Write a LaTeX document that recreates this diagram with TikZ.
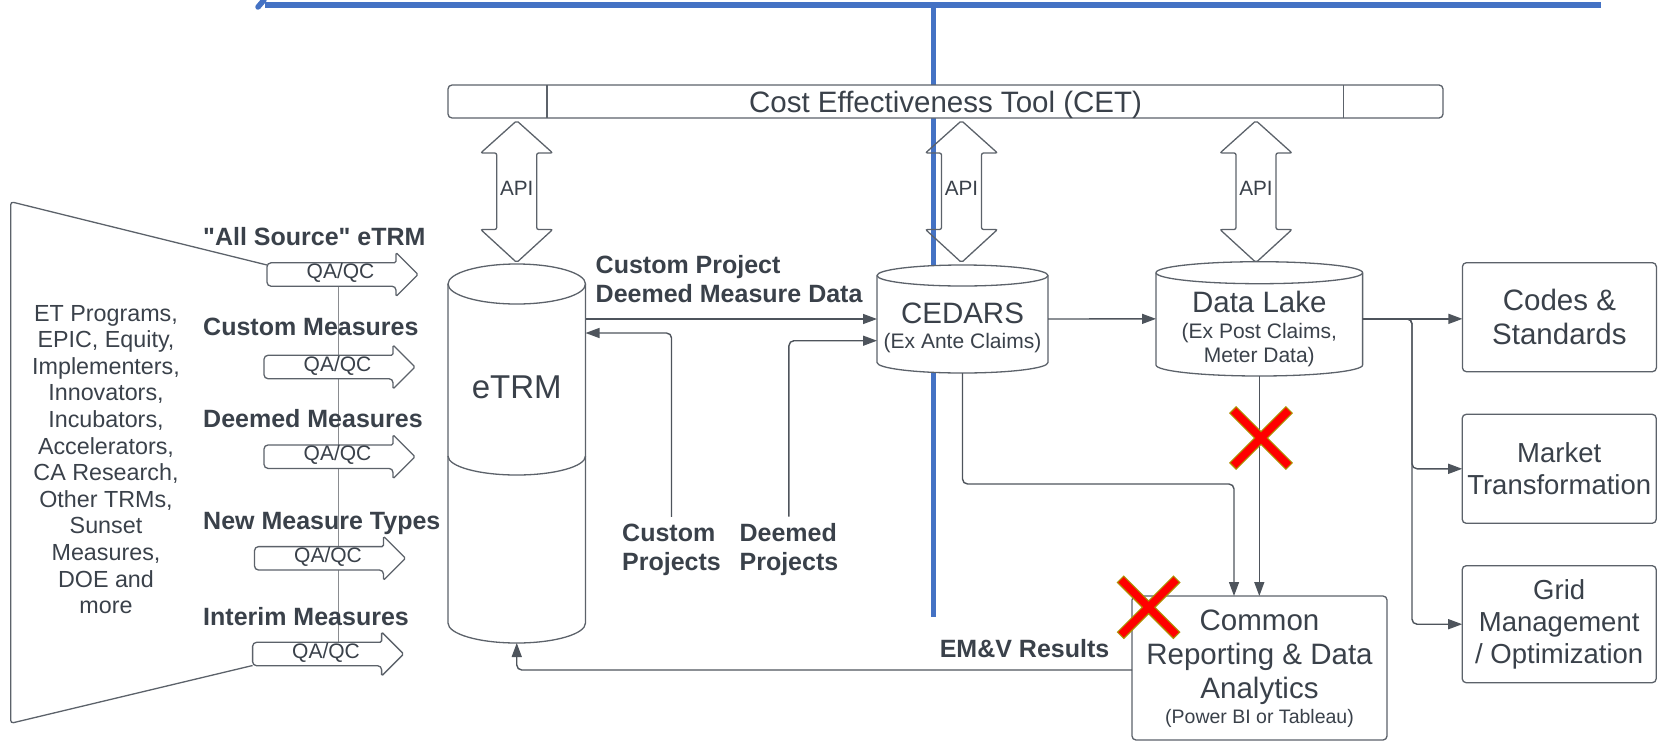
\documentclass[tikz,border=0pt]{standalone}
\usepackage{fontspec}
\setmainfont{Liberation Sans}[Ligatures=TeXOff]
\usetikzlibrary{arrows.meta}

\definecolor{ink}{RGB}{58,65,74}
\definecolor{edge}{RGB}{92,98,106}
\definecolor{wire}{RGB}{78,84,92}
\definecolor{railblue}{RGB}{68,114,196}
\definecolor{qaline}{RGB}{138,140,144}
\definecolor{xred}{RGB}{255,0,0}
\definecolor{xrim}{RGB}{176,140,0}

\newcommand\bigfont{\fontsize{29.5}{34}\selectfont}
\newcommand\midfont{\fontsize{27.5}{32}\selectfont}
\newcommand\smallfont{\fontsize{21}{23.7}\selectfont}
\newcommand\labfont{\fontsize{25}{29}\selectfont\bfseries}

% cylinder outline around a placeholder node: #1 node, #2 x radius, #3 y radius
\newcommand\drum[3]{%
  \draw[box, rounded corners=0pt] ([yshift=-#3]#1.north west) -- ([yshift=#3]#1.south west)
    arc[start angle=180, end angle=360, x radius=#2, y radius=#3]
    -- ([yshift=-#3]#1.north east)
    arc[start angle=0, end angle=180, x radius=#2, y radius=#3] -- cycle;
  \draw[box, fill=none, rounded corners=0pt] ([yshift=-#3]#1.north west)
    arc[start angle=180, end angle=360, x radius=#2, y radius=#3];
}

\tikzset{
  box/.style={draw=edge, line width=1.3pt, fill=white, rounded corners=4pt},
  txt/.style={text=ink, inner sep=0pt, align=center},
  big/.style={txt, font=\bigfont},
  mid/.style={txt, font=\midfont},
  small/.style={txt, font=\smallfont},
  lab/.style={text=ink, inner sep=0pt, align=left, font=\labfont},
  hold/.style 2 args={inner sep=0pt, outer sep=0pt, minimum width=#1, minimum height=#2},
  conn/.style={draw=wire, line width=1.4pt, rounded corners=5pt,
    -{Triangle[length=14pt,width=10pt]}},
  rail/.style={draw=railblue, line width=5.5pt},
  crossrim/.style={draw=xrim, line width=10pt},
  crossred/.style={draw=xred, line width=7.5pt},
  qaarrow/.pic={
    \draw[draw=edge, line width=1.3pt, fill=white, rounded corners=4pt]
      (129,-11.7) -- (0,-11.7) -- (0,11.7) -- (129,11.7)
      [rounded corners=1.5pt] -- (129,22) -- (151,0) -- (129,-22) -- cycle;
  },
  apiarrow/.pic={
    \draw[draw=edge, line width=1.3pt, rounded corners=2pt]
      (0,120.7) -- (36,153) -- (20,153) -- (20,229.5) -- (36,229.5) -- (0,262.5)
      -- (-36,229.5) -- (-20,229.5) -- (-20,153) -- (-36,153) -- cycle;
  },
}

\begin{document}
\begin{tikzpicture}[x=1pt, y=-1pt]
\useasboundingbox (0,0) rectangle (1661,742);

% blue rails
\draw[rail, line cap=round] (258,7) -- (264,0);
\draw[rail] (265,5) -- (1601,5);
\draw[rail] (933.5,5) -- (933.5,617);

% source funnel and QA/QC feeders
\draw[draw=edge, line width=1.3pt, rounded corners=3pt]
  (267,265) -- (10.7,201.7) -- (10.7,723.3) -- (252.6,665.5);
\draw[draw=qaline, line width=1.5pt] (338.7,286) -- (338.7,643);

\pic at (267,274.5) {qaarrow};
\pic at (264,367) {qaarrow};
\pic at (264,456.7) {qaarrow};
\pic at (254.5,558.3) {qaarrow};
\pic at (252.6,654) {qaarrow};

\node[txt, font=\fontsize{21}{24}\selectfont] (qa1) at (340.5,273) {QA/QC};
\node[txt, font=\fontsize{21}{24}\selectfont] (qa2) at (337.5,365.5) {QA/QC};
\node[txt, font=\fontsize{21}{24}\selectfont] (qa3) at (337.5,455.2) {QA/QC};
\node[txt, font=\fontsize{21}{24}\selectfont] (qa4) at (328,556.8) {QA/QC};
\node[txt, font=\fontsize{21}{24}\selectfont] (qa5) at (326,652.5) {QA/QC};

\node[txt, font=\fontsize{23.3}{26.6}\selectfont] (sources) at (106,459.5)
  {ET Programs,\\EPIC, Equity,\\Implementers,\\Innovators,\\Incubators,\\Accelerators,\\CA Research,\\Other TRMs,\\Sunset\\Measures,\\DOE and\\more};

\node[lab, anchor=base west] (allsrc) at (203,245) {"All Source" eTRM};
\node[lab, anchor=base west] (custmeas) at (203,335) {Custom Measures};
\node[lab, anchor=base west] (deemmeas) at (203,427.3) {Deemed Measures};
\node[lab, anchor=base west] (newmeas) at (203,529) {New Measure Types};
\node[lab, anchor=base west] (intmeas) at (203,625) {Interim Measures};

% cost effectiveness tool bar
\node[box, hold={995pt}{33pt}] (cet) at (945.5,101.5) {};
\draw[draw=edge, line width=1.3pt] ([xshift=99pt]cet.north west) -- ([xshift=99pt]cet.south west);
\draw[draw=edge, line width=1.3pt] ([xshift=-99.4pt]cet.north east) -- ([xshift=-99.4pt]cet.south east);
\node[big, anchor=base] (cettext) at (945.5,112) {Cost Effectiveness Tool (CET)};

% API links
\pic at (516.7,0) {apiarrow};
\pic at (961.5,0) {apiarrow};
\pic at (1256,0) {apiarrow};
\node[txt, font=\fontsize{20.7}{24}\selectfont] (api1) at (516.7,188.3) {API};
\node[txt, font=\fontsize{20.7}{24}\selectfont] (api2) at (961.5,188.3) {API};
\node[txt, font=\fontsize{20.7}{24}\selectfont] (api3) at (1256,188.3) {API};

% data stores
\node[hold={137.5pt}{379pt}] (etrm) at (516.75,453.5) {};
\drum{etrm}{68.75pt}{20pt}
\coordinate (etrmmid) at (448,456);
\draw[box, fill=none, rounded corners=0pt] (etrmmid) arc[start angle=180, end angle=360, x radius=68.75pt, y radius=19pt];
\node[txt, font=\fontsize{33}{38}\selectfont, anchor=base] (etrmtext) at (516.75,398.5) {eTRM};

\node[hold={171pt}{108pt}] (cedars) at (962.5,319) {};
\drum{cedars}{85.5pt}{10.5pt}
\node[big, anchor=base] (cedarstext) at (962.5,323.6) {CEDARS};
\node[small] (cedarssub) at (962.5,343.3) {(Ex Ante Claims)};

\node[hold={206.6pt}{114.3pt}] (lake) at (1259.3,318.85) {};
\drum{lake}{103.3pt}{11pt}
\node[big, anchor=base] (laketext) at (1259.3,312.3) {Data Lake};
\node[small] (lakesub) at (1259.3,344.85) {(Ex Post Claims,\\Meter Data)};

% outcome boxes
\node[box, hold={194pt}{109pt}, big] (codes) at (1559.4,317.2) {Codes \&\\Standards};
\node[box, hold={194pt}{109pt}, mid] (market) at (1559.2,468.8) {Market\\Transformation};
\node[box, hold={194pt}{117pt}, mid] (grid) at (1559.2,624.2) {Grid\\Management\\/ Optimization};

\node[box, hold={255pt}{144pt}] (common) at (1259.5,668) {};
\node[big] (commontext) at (1259.5,657) {Common\\Reporting \& Data\\Analytics};
\node[txt, font=\fontsize{19.5}{23}\selectfont] (commonsub) at (1259.5,718) {(Power BI or Tableau)};

% flow labels
\node[lab, anchor=west] (cpdata) at (595.5,278.85) {Custom Project\\Deemed Measure Data};
\node[lab, anchor=west] (custproj) at (622,549.85) {Custom\\Projects};
\node[lab, anchor=west] (deemproj) at (739.4,549.85) {Deemed\\Projects};
\node[lab, anchor=base west] (emv) at (939.6,657.3) {EM\&V Results};

% connectors
\coordinate (cpy) at (0,333);
\coordinate (dpy) at (0,340.7);
\coordinate (emvy) at (0,670);
\coordinate (cturn) at (1234,484);
\coordinate (bus) at (1412,318.85);

\draw[conn] (etrm.east |- cedars.west) -- (cedars.west);
\draw[conn] ([yshift=7pt]custproj.north) |- (etrm.east |- cpy);
\draw[conn] ([yshift=7pt]deemproj.north) |- (cedars.west |- dpy);
\draw[conn] (cedars.east) -- (lake.west);
\draw[conn] (cedars.south) |- (cturn) -- (cturn |- common.north);
\draw[conn] (lake.south) -- (lake.south |- common.north);
\draw[conn] (lake.east) -- (codes.west |- lake.east);
\draw[conn] (lake.east) -- (bus) |- (market.west);
\draw[conn] (lake.east) -- (bus) |- (grid.west);
\draw[conn] (common.west |- emvy) -| (etrm.south);

% struck-out links
\draw[crossrim] (1232.6,409.6) -- (1289.4,466.4) (1232.6,466.4) -- (1289.4,409.6);
\draw[crossred] (1233.5,410.5) -- (1288.5,465.5) (1233.5,465.5) -- (1288.5,410.5);
\draw[crossrim] (1120.2,578.9) -- (1177,635.7) (1120.2,635.7) -- (1177,578.9);
\draw[crossred] (1121.1,579.8) -- (1176.1,634.8) (1121.1,634.8) -- (1176.1,579.8);

\end{tikzpicture}
\end{document}
